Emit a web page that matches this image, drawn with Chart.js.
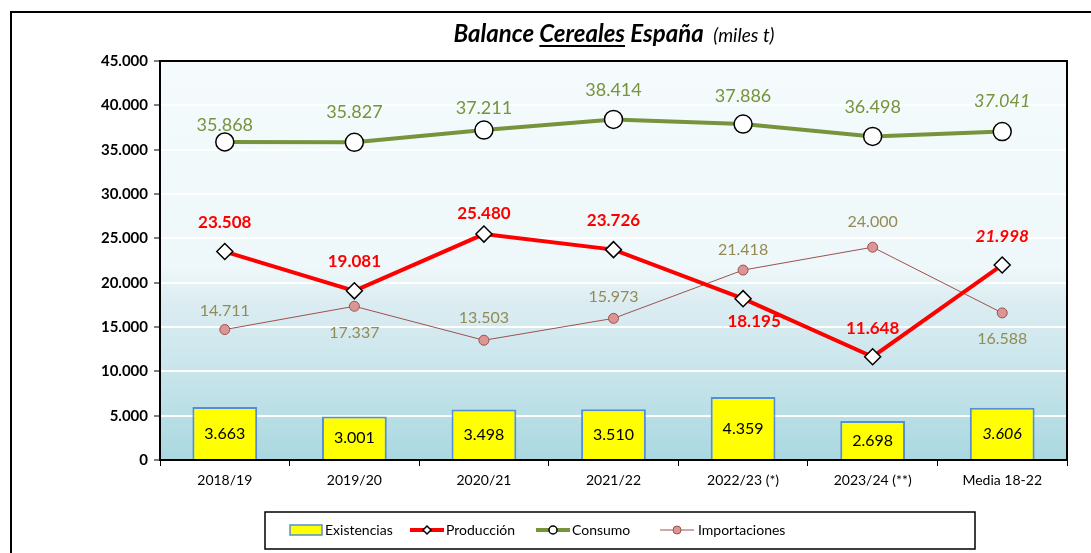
<!DOCTYPE html>
<html>
<head>
<meta charset="utf-8">
<script src="https://cdn.jsdelivr.net/npm/chart.js@4"></script>
<style>
  html, body { margin: 0; padding: 0; background: #fff; }
  #wrap { width: 1091px; height: 553px; }
</style>
</head>
<body>
<div id="wrap"><canvas id="balanceChart" width="1091" height="553"></canvas></div>
<script>
// datos (miles t)
const campanas = ['2018/19', '2019/20', '2020/21', '2021/22', '2022/23 (*)', '2023/24 (**)', 'Media 18-22'];
const existencias = [3663, 3001, 3498, 3510, 4359, 2698, 3606];
const produccion = [23508, 19081, 25480, 23726, 18195, 11648, 21998];
const consumo = [35868, 35827, 37211, 38414, 37886, 36498, 37041];
const importaciones = [14711, 17337, 13503, 15973, 21418, 24000, 16588];
const ejeY = [0, 5000, 10000, 15000, 20000, 25000, 30000, 35000, 40000, 45000];

// desplazamiento de etiquetas (px, negativo = arriba)
const dyConsumo = [-17, -30, -22, -29, -28, -29, -30];
const dyProduccion = [-29, -29, -21, -29, 23, -28, -28];
const dxProduccion = [0, 0, 0, 0, 11, 0, 0];
const dyImport = [-19, 27, -22, -22, -20, -25, 26];

const fmt = v => v.toLocaleString('de-DE');
const FONT = 'Lato, "Open Sans", sans-serif';

const fondo = {
    id: 'fondo',
    beforeDraw(chart) {
        const { ctx, chartArea: a } = chart;
        ctx.save();
        ctx.fillStyle = '#fff';
        ctx.fillRect(0, 0, chart.width, chart.height);
        const g = ctx.createLinearGradient(0, a.top, 0, a.bottom);
        g.addColorStop(0, '#f5fbfc');
        g.addColorStop(0.52, '#eef7f9');
        g.addColorStop(0.6, '#dcedf2');
        g.addColorStop(0.78, '#c8e5eb');
        g.addColorStop(1, '#aad8e0');
        ctx.fillStyle = g;
        ctx.fillRect(a.left, a.top, a.right - a.left, a.bottom - a.top);
        ctx.restore();
    },
    afterDraw(chart) {
        const { ctx, chartArea: a } = chart;
        ctx.save();
        // marco exterior
        ctx.strokeStyle = '#000';
        ctx.lineWidth = 2;
        ctx.strokeRect(11, 12, 1200, 700);
        // marco del área
        ctx.strokeRect(a.left, a.top, a.right - a.left, a.bottom - a.top);

        // titulo
        ctx.fillStyle = '#000';
        ctx.textBaseline = 'alphabetic';
        const y = 42;
        const parts = [
            { t: 'Balance ', f: 'italic bold 24px ' + FONT },
            { t: 'Cereales', f: 'italic bold 24px ' + FONT, u: true },
            { t: ' España ', f: 'italic bold 24px ' + FONT },
            { t: ' (miles t)', f: 'italic 19px ' + FONT }
        ];
        let total = 0;
        parts.forEach(p => { ctx.font = p.f; p.w = ctx.measureText(p.t).width; total += p.w; });
        let x = 614 - total / 2;
        parts.forEach(p => {
            ctx.font = p.f;
            ctx.fillText(p.t, x, y);
            if (p.u) {
                ctx.fillRect(x, y + 3, p.w, 2);
            }
            x += p.w;
        });

        // leyenda
        ctx.lineWidth = 1.5;
        ctx.strokeRect(265, 512, 710, 37);
        const ly = 530;
        ctx.font = '14px ' + FONT;
        ctx.textBaseline = 'middle';
        // Existencias
        ctx.fillStyle = '#ffff00';
        ctx.fillRect(290, 525, 32, 10);
        ctx.strokeStyle = '#558ed5';
        ctx.lineWidth = 1.5;
        ctx.strokeRect(290, 525, 32, 10);
        ctx.fillStyle = '#000';
        ctx.fillText('Existencias', 325, ly);
        // Producción
        ctx.strokeStyle = '#ff0000';
        ctx.lineWidth = 4;
        ctx.beginPath(); ctx.moveTo(410, ly); ctx.lineTo(444, ly); ctx.stroke();
        ctx.fillStyle = '#fff'; ctx.strokeStyle = '#000'; ctx.lineWidth = 1.5;
        ctx.beginPath(); ctx.moveTo(427, ly - 4); ctx.lineTo(431, ly); ctx.lineTo(427, ly + 4); ctx.lineTo(423, ly); ctx.closePath();
        ctx.fill(); ctx.stroke();
        ctx.fillStyle = '#000';
        ctx.fillText('Producción', 446, ly);
        // Consumo
        ctx.strokeStyle = '#77933c';
        ctx.lineWidth = 4;
        ctx.beginPath(); ctx.moveTo(536, ly); ctx.lineTo(570, ly); ctx.stroke();
        ctx.fillStyle = '#fff'; ctx.strokeStyle = '#000'; ctx.lineWidth = 1.5;
        ctx.beginPath(); ctx.arc(553, ly, 4, 0, Math.PI * 2); ctx.fill(); ctx.stroke();
        ctx.fillStyle = '#000';
        ctx.fillText('Consumo', 572, ly);
        // Importaciones
        ctx.strokeStyle = '#a0504f';
        ctx.lineWidth = 1;
        ctx.beginPath(); ctx.moveTo(660, ly); ctx.lineTo(694, ly); ctx.stroke();
        ctx.fillStyle = '#d99694';
        ctx.beginPath(); ctx.arc(677, ly, 4, 0, Math.PI * 2); ctx.fill(); ctx.stroke();
        ctx.fillStyle = '#000';
        ctx.fillText('Importaciones', 698, ly);
        ctx.restore();
    }
};

const etiquetas = {
    id: 'etiquetas',
    afterDatasetsDraw(chart) {
        const { ctx } = chart;
        ctx.save();
        ctx.textAlign = 'center';
        ctx.textBaseline = 'middle';
        chart.data.datasets.forEach((ds, i) => {
            const meta = chart.getDatasetMeta(i);
            const lab = ds.etiqueta;
            meta.data.forEach((el, j) => {
                const ultimo = j === ds.data.length - 1;
                ctx.font = (ultimo && lab.italicLast ? 'italic ' : '') + lab.font;
                ctx.fillStyle = lab.color;
                let x = el.x, y;
                if (ds.type === 'bar') {
                    y = (el.y + el.base) / 2;
                } else {
                    x += lab.dx ? lab.dx[j] : 0;
                    y = el.y + lab.dy[j];
                }
                ctx.fillText(fmt(ds.data[j]), x, y);
            });
        });
        ctx.restore();
    }
};

new Chart(document.getElementById('balanceChart'), {
    data: {
        labels: campanas,
        datasets: [
            {
                type: 'line',
                label: 'Importaciones',
                data: importaciones,
                borderColor: '#a0504f',
                borderWidth: 1,
                pointRadius: 5,
                pointBackgroundColor: '#d99694',
                pointBorderColor: '#a0504f',
                pointBorderWidth: 1,
                tension: 0,
                order: 3,
                etiqueta: { font: '16px ' + FONT, color: '#948a54', dy: dyImport }
            },
            {
                type: 'line',
                label: 'Producción',
                data: produccion,
                borderColor: '#ff0000',
                borderWidth: 4,
                pointStyle: 'rectRot',
                pointRadius: 8,
                pointBackgroundColor: '#fff',
                pointBorderColor: '#000',
                pointBorderWidth: 1.5,
                tension: 0,
                order: 2,
                etiqueta: { font: 'bold 17px ' + FONT, color: '#ff0000', dy: dyProduccion, dx: dxProduccion, italicLast: true }
            },
            {
                type: 'line',
                label: 'Consumo',
                data: consumo,
                borderColor: '#77933c',
                borderWidth: 4,
                pointRadius: 9,
                pointBackgroundColor: '#fff',
                pointBorderColor: '#000',
                pointBorderWidth: 1.5,
                tension: 0,
                order: 1,
                etiqueta: { font: '18px ' + FONT, color: '#77933c', dy: dyConsumo, italicLast: true }
            },
            {
                type: 'bar',
                label: 'Existencias',
                data: existencias,
                yAxisID: 'y2',
                backgroundColor: '#ffff00',
                borderColor: '#558ed5',
                borderWidth: 2,
                barPercentage: 0.5,
                categoryPercentage: 1,
                order: 4,
                etiqueta: { font: '16px ' + FONT, color: '#000', italicLast: true }
            }
        ]
    },
    options: {
        responsive: false,
        animation: false,
        layout: { padding: { top: 61, right: 24, left: 0, bottom: 0 } },
        plugins: {
            legend: { display: false },
            tooltip: { enabled: false }
        },
        scales: {
            x: {
                offset: true,
                grid: { offset: true, drawOnChartArea: false, color: '#000', tickLength: 6 },
                border: { display: false },
                ticks: { color: '#000', font: { family: FONT, size: 14 }, padding: 6 },
                afterFit(s) { s.height = 93; }
            },
            y: {
                min: 0,
                max: 45000,
                afterBuildTicks(s) { s.ticks = ejeY.map(v => ({ value: v })); },
                grid: { color: '#ffffff', lineWidth: 2, tickColor: '#000', tickLength: 6, tickWidth: 1 },
                border: { display: false },
                ticks: {
                    color: '#000',
                    font: { family: FONT, size: 15, weight: 'bold' },
                    padding: 6,
                    callback: v => fmt(v)
                },
                afterFit(s) { s.width = 160; }
            },
            y2: {
                display: false,
                min: 0,
                max: 27600
            }
        }
    },
    plugins: [fondo, etiquetas]
});
</script>
</body>
</html>
